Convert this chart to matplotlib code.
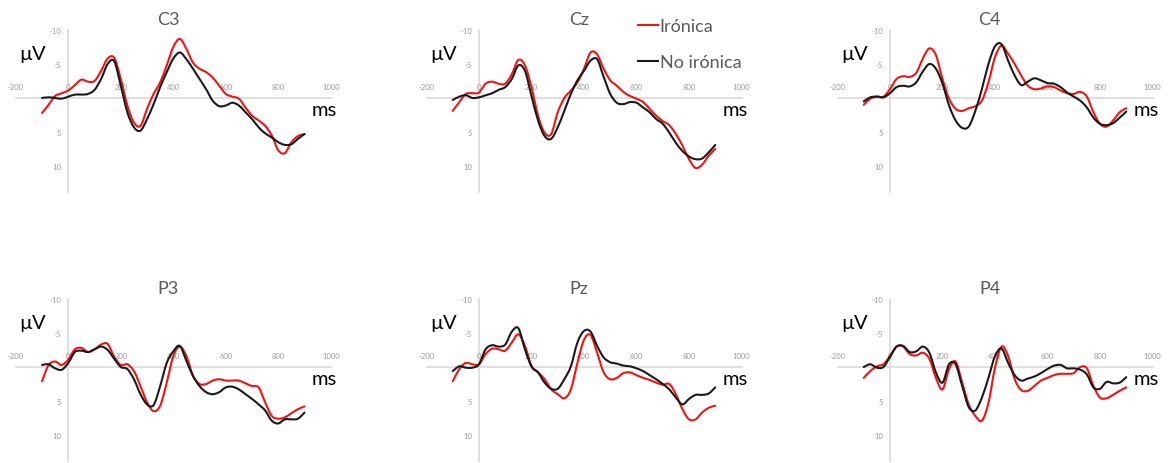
import matplotlib
matplotlib.use('Agg')
import matplotlib.pyplot as plt
from matplotlib.path import Path
from matplotlib.patches import PathPatch
from matplotlib.lines import Line2D

plt.rcParams['font.family'] = ['Lato', 'DejaVu Sans']

# ---------------- data ----------------
time_ms = [-100, -75, -50, -25, 0, 25, 50, 75, 100, 125, 150, 175, 200, 225, 250,
           275, 300, 325, 350, 375, 400, 425, 450, 475, 500, 525, 550, 575, 600,
           625, 650, 675, 700, 725, 750, 775, 800, 825, 850, 875, 900]

electrodes = ['C3', 'Cz', 'C4', 'P3', 'Pz', 'P4']
series_labels = ['Irónica', 'No irónica']

c3_ironica = [2.2, 1.0, -0.3, -0.7, -1.1, -1.9, -2.7, -2.4, -2.5, -4.0, -5.8, -5.9, -2.8, 1.1, 3.6,
              4.1, 1.6, -0.6, -2.3, -4.8, -7.5, -8.7, -7.2, -5.2, -4.3, -3.8, -3.0, -1.8, -0.6,
              -0.2, 0.1, 1.4, 2.6, 3.3, 4.1, 5.5, 7.7, 8.1, 6.5, 5.6, 5.3]
c3_no_ironica = [0.0, -0.1, 0.0, 0.1, -0.2, -0.5, -0.5, -0.6, -1.2, -2.8, -5.0, -5.4, -1.8, 2.1, 4.3,
                 4.8, 3.1, 0.9, -1.6, -3.8, -5.8, -6.7, -5.7, -4.3, -2.8, -1.3, 0.4, 1.2, 1.1,
                 0.7, 1.1, 2.1, 3.1, 4.3, 5.2, 5.8, 6.5, 6.9, 6.8, 6.0, 5.3]

cz_ironica = [1.9, 0.6, -0.6, -0.7, -0.8, -2.1, -2.4, -2.1, -2.1, -3.5, -5.6, -4.8, -1.6, 2.6, 5.1,
              5.3, 2.1, 0.0, -1.1, -2.3, -4.3, -6.7, -6.4, -4.3, -2.6, -1.8, -0.9, -0.3, 0.1,
              0.6, 1.6, 2.6, 3.4, 4.0, 5.3, 7.0, 9.0, 10.3, 9.8, 8.5, 7.5]
cz_no_ironica = [0.3, -0.2, -0.4, 0.0, -0.1, -0.4, -0.7, -1.2, -1.6, -2.8, -4.8, -4.0, -0.3, 3.3, 5.6,
                 6.0, 4.3, 1.9, -0.6, -2.6, -4.0, -5.5, -5.7, -3.1, -0.6, 0.7, 0.9, 0.6, 0.7,
                 1.4, 2.1, 3.1, 3.8, 5.1, 6.6, 7.8, 8.6, 9.0, 8.9, 8.0, 6.9]

c4_ironica = [1.0, 0.1, -0.2, -0.2, -1.3, -2.8, -3.2, -3.1, -3.7, -5.8, -7.3, -6.3, -2.8, 0.1, 1.6,
              1.9, 1.5, 1.2, 0.4, -2.3, -6.0, -7.7, -6.5, -5.0, -3.3, -1.8, -1.3, -1.4, -1.7,
              -1.6, -1.1, -0.7, -0.6, -0.9, -0.2, 2.1, 3.8, 4.2, 3.3, 2.1, 1.5]
c4_no_ironica = [0.5, -0.1, -0.2, -0.1, -0.7, -1.6, -1.8, -1.7, -2.3, -3.9, -5.0, -4.3, -2.1, 1.1, 3.3,
                 4.4, 4.2, 1.9, -1.3, -5.0, -7.6, -7.9, -5.5, -3.3, -1.9, -2.4, -2.9, -2.6, -2.2,
                 -2.1, -1.6, -0.8, -0.2, 0.4, 1.4, 2.9, 3.8, 4.0, 3.7, 2.9, 2.0]

p3_ironica = [2.1, -0.3, -0.8, -0.3, -1.1, -2.6, -2.8, -2.2, -2.6, -3.3, -3.4, -1.5, -0.3, -0.4, 0.6,
              2.8, 5.2, 6.5, 5.7, 2.3, -1.6, -3.0, -1.6, 1.3, 2.5, 2.5, 2.0, 1.8, 2.0,
              2.0, 2.0, 2.4, 2.8, 3.0, 5.2, 7.2, 7.6, 7.4, 6.8, 6.2, 5.8]
p3_no_ironica = [-0.3, -0.4, 0.2, 0.4, -0.6, -2.2, -2.4, -2.2, -2.6, -3.0, -2.5, -1.2, 0.0, 0.3, 1.8,
                 4.0, 5.5, 5.6, 2.8, -0.6, -2.3, -3.1, -0.9, 1.3, 2.8, 3.7, 4.0, 3.7, 3.0,
                 2.9, 3.3, 4.0, 4.7, 5.5, 6.4, 7.9, 8.3, 7.7, 7.7, 7.6, 6.7]

pz_ironica = [2.1, 0.3, -0.6, -0.4, -0.4, -1.9, -2.7, -2.6, -2.4, -3.6, -4.8, -3.1, -0.1, 0.8, 1.8,
              3.3, 4.0, 4.6, 3.3, -0.6, -4.0, -4.7, -2.1, 0.8, 1.8, 1.6, 0.9, 0.8, 1.2,
              1.6, 1.9, 2.3, 2.6, 2.5, 4.0, 6.2, 7.7, 7.7, 6.7, 6.0, 5.7]
pz_no_ironica = [0.6, -0.1, 0.1, 0.1, -0.4, -2.6, -3.2, -3.0, -3.3, -5.2, -5.7, -2.6, -0.1, 0.8, 2.3,
                 3.2, 3.2, 1.8, -0.1, -3.6, -5.3, -5.2, -3.1, -1.4, -0.7, -0.5, -0.2, -0.1, 0.2,
                 0.6, 1.2, 1.8, 2.5, 3.3, 4.5, 5.5, 4.7, 4.1, 4.1, 3.9, 3.0]

p4_ironica = [1.6, 0.6, -0.1, -0.4, -1.6, -3.0, -3.0, -1.9, -1.7, -2.1, -1.2, 1.6, 3.3, 0.3, -0.8,
              2.3, 5.5, 7.2, 7.9, 5.3, 0.1, -3.0, -1.6, 1.8, 3.4, 3.5, 2.8, 2.0, 1.6,
              1.2, 1.0, 1.0, 0.9, 0.0, 0.2, 2.8, 4.5, 4.6, 4.1, 3.5, 3.0]
p4_no_ironica = [0.0, -0.4, 0.1, 0.0, -1.5, -3.0, -3.1, -2.2, -2.3, -3.0, -2.1, 0.8, 2.3, -0.4, -0.4,
                 2.8, 5.9, 6.4, 4.5, 1.6, -1.6, -2.7, -0.6, 1.2, 2.0, 1.7, 1.4, 0.9, 0.3,
                 -0.2, -0.3, 0.2, 0.2, 0.4, 1.1, 3.0, 3.2, 2.2, 2.4, 2.3, 1.5]

ironica = [c3_ironica, cz_ironica, c4_ironica, p3_ironica, pz_ironica, p4_ironica]
no_ironica = [c3_no_ironica, cz_no_ironica, c4_no_ironica, p3_no_ironica, pz_no_ironica, p4_no_ironica]

x_ticks = [-200, 0, 200, 400, 600, 800, 1000]
y_ticks = [-10, -5, 5, 10]


def smooth_path(x, y):
    """Excel-style smoothed line: Catmull-Rom Bezier through the data points."""
    n = len(x)
    verts = [(x[0], y[0])]
    codes = [Path.MOVETO]
    for i in range(n - 1):
        i0 = max(i - 1, 0)
        i3 = min(i + 2, n - 1)
        c1 = (x[i] + (x[i + 1] - x[i0]) / 6.0, y[i] + (y[i + 1] - y[i0]) / 6.0)
        c2 = (x[i + 1] - (x[i3] - x[i]) / 6.0, y[i + 1] - (y[i3] - y[i]) / 6.0)
        verts += [c1, c2, (x[i + 1], y[i + 1])]
        codes += [Path.CURVE4] * 3
    return Path(verts, codes)


# ---------------- layout ----------------
W, H = 1168, 464
fig = plt.figure(figsize=(W / 100, H / 100), dpi=100)

SX = 0.2625   # px per ms
SY = 6.8      # px per microvolt
XL = (-230, 1030)
YL = (14, -12)
axis_x_px = [68.3, 479, 890]
zero_y_px = [99, 368]

RED = '#f01414'
BLACK = '#1a1a1a'
GRID = '#d9d9d9'
TICKC = '#9a9a9a'
TITLEC = '#595959'
LW = 1.5

for i, name in enumerate(electrodes):
    r, c = divmod(i, 3)
    left = axis_x_px[c] - (0 - XL[0]) * SX
    top = zero_y_px[r] + YL[1] * SY
    w = (XL[1] - XL[0]) * SX
    h = (YL[0] - YL[1]) * SY
    ax = fig.add_axes([left / W, 1 - (top + h) / H, w / W, h / H])
    ax.set_xlim(XL)
    ax.set_ylim(YL)
    ax.patch.set_visible(False)
    for s in ['right', 'bottom']:
        ax.spines[s].set_visible(False)
    ax.spines['left'].set_position(('data', 0))
    ax.spines['left'].set_bounds(-10, 13.8)
    ax.spines['top'].set_position(('data', 0))
    ax.spines['top'].set_bounds(-200, 1000)
    for s in ['left', 'top']:
        ax.spines[s].set_color(GRID)
        ax.spines[s].set_linewidth(1.2)
        ax.spines[s].set_zorder(1)
    ax.xaxis.set_ticks_position('top')
    ax.set_xticks(x_ticks)
    ax.set_xticklabels([str(v) for v in x_ticks])
    ax.set_yticks(y_ticks)
    ax.set_yticklabels([str(v) for v in y_ticks])
    ax.tick_params(axis='both', length=0, labelsize=5.5, labelcolor=TICKC)
    ax.tick_params(axis='x', pad=6)
    ax.tick_params(axis='y', pad=5)

    ax.add_patch(PathPatch(smooth_path(time_ms, ironica[i]), fill=False,
                           edgecolor=RED, lw=LW, zorder=3, joinstyle='round',
                           capstyle='round'))
    ax.add_patch(PathPatch(smooth_path(time_ms, no_ironica[i]), fill=False,
                           edgecolor=BLACK, lw=LW, zorder=4, joinstyle='round',
                           capstyle='round'))

    ax.text(380, -11.6, name, ha='center', va='center', fontsize=13,
            color=TITLEC, clip_on=False)
    ax.text(-135, -6.5, 'µV', ha='center', va='center', fontsize=14.5,
            color='black', clip_on=False)
    ax.text(975, 1.7, 'ms', ha='center', va='center', fontsize=14.5,
            color='black', clip_on=False)

handles = [Line2D([], [], color=RED, lw=LW), Line2D([], [], color=BLACK, lw=LW)]
leg = fig.legend(handles, series_labels, loc='upper left',
                 bbox_to_anchor=(638 / W, 1 - 19 / H), frameon=False,
                 fontsize=13, handlelength=1.1, handletextpad=0.1,
                 labelspacing=1.12, borderpad=0, borderaxespad=0)
for t in leg.get_texts():
    t.set_color(TITLEC)

fig.savefig('out.png', dpi=100)
